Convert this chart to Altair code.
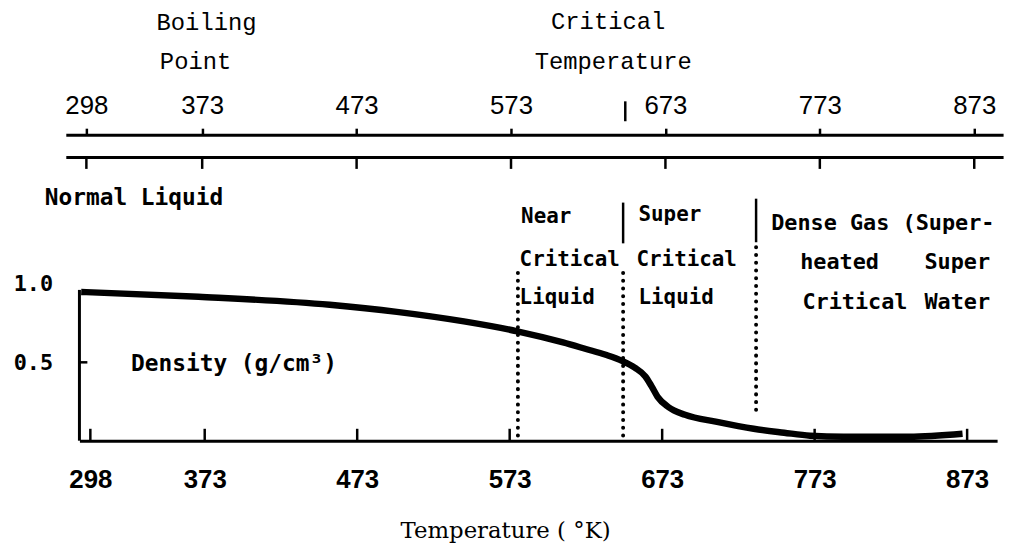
import altair as alt
import pandas as pd

# ---------------- data ----------------
# density curve (temperature in K, density in g/cm3)
temp_k = [292, 369, 455, 499, 543, 578, 608, 623, 636, 647, 655, 662, 666, 670,
          677, 688, 709, 733, 753, 770, 792, 835, 870]
density = [0.949, 0.918, 0.867, 0.822, 0.761, 0.698, 0.627, 0.585, 0.548, 0.508,
           0.466, 0.410, 0.348, 0.280, 0.215, 0.165, 0.120, 0.076, 0.051, 0.032,
           0.025, 0.025, 0.044]

tick_values = [298, 373, 473, 573, 673, 773, 873]
y_tick_values = [0.5, 1.0]

# region boundaries
boundary_temps = [578.4, 647.4, 734.6]
dotted_tops = [1.07, 1.07, 1.234]
dotted_bottoms = [0.0, 0.0, 0.152]
solid_temps = [647.4, 734.6]
solid_tops = [1.519, 1.544]
solid_bottoms = [1.259, 1.266]

critical_temp = [647]
critical_mark = [2.038, 2.165]

top_line_levels = [1.949, 1.807]
top_line_span = [285, 892]
top_tick_depth = [1.807, 1.734]
bottom_tick_height = [0.0, 0.076]
left_axis_span = [0.0, 0.962]

col_labels = ["Near", "Critical", "Liquid", "Super", "Critical", "Liquid"]
col_t = [580.5, 579.5, 579.5, 657.5, 656.2, 657.5]
col_d = [1.424, 1.152, 0.911, 1.437, 1.152, 0.911]

gas_labels = ["Dense Gas (Super-", "heated", "Super", "Critical", "Water"]
gas_t = [744.5, 763.5, 845.0, 765.0, 845.0]
gas_d = [1.386, 1.139, 1.139, 0.886, 0.886]

side_labels = ["Normal Liquid", "Density (g/cm³)"]
side_t = [268.1, 324.7]
side_d = [1.551, 0.487]

head_labels = ["Boiling", "Point", "Critical", "Temperature"]
head_t = [374.2, 367.0, 637.6, 640.9]
head_d = [2.665, 2.418, 2.671, 2.418]

# ---------------- scales & axes ----------------
W, H = 925, 434
x_bottom_scale = alt.Scale(domain=[290.84, 892.66], nice=False, zero=False)
x_top_scale = alt.Scale(domain=[293.5, 887.8], nice=False, zero=False)
y_scale = alt.Scale(domain=[0, 434 / 158], nice=False, zero=False)

bottom_axis = alt.Axis(
    orient="bottom", values=tick_values, grid=False,
    domain=True, domainWidth=3, domainColor="black",
    ticks=False, tickSize=0,
    labelFont="Liberation Sans", labelFontWeight="bold", labelFontSize=26,
    labelColor="black", labelBaseline="middle", labelPadding=39,
    labelFlush=False, labelOverlap=False,
    title="Temperature ( °K)", titleFont="DejaVu Serif", titleFontSize=23,
    titleFontWeight="normal", titleColor="black",
    titleX=429, titleY=91, titleAlign="center", titleBaseline="middle",
)
top_axis = alt.Axis(
    orient="top", values=tick_values, grid=False, domain=False,
    ticks=True, tickSize=7, tickWidth=2.5, tickColor="black",
    labelFont="Liberation Sans", labelFontSize=26, labelColor="black",
    labelBaseline="middle", labelPadding=23, labelFlush=False, labelOverlap=False,
    offset=-126, title=None,
)
y_axis = alt.Axis(
    orient="left", values=y_tick_values, format=".1f", grid=False,
    domain=False, ticks=False, tickSize=0,
    labelFont="DejaVu Sans Mono", labelFontWeight="bold", labelFontSize=22,
    labelColor="black", labelAlign="right", labelBaseline="middle",
    labelPadding=27, title=None,
)


def XB(f):
    return alt.X(f"{f}:Q", scale=x_bottom_scale, axis=bottom_axis)


def XT(f):
    return alt.X(f"{f}:Q", scale=x_top_scale, axis=top_axis)


def YS(f):
    return alt.Y(f"{f}:Q", scale=y_scale, axis=y_axis)


# ---------------- bottom (main) layer ----------------
curve_df = pd.DataFrame({"t": temp_k, "d": density})
curve = alt.Chart(curve_df).mark_line(
    color="black", strokeWidth=6.5, interpolate="monotone", strokeJoin="round"
).encode(x=XB("t"), y=YS("d"))

tick_df = pd.DataFrame({"t": tick_values,
                        "y0": [bottom_tick_height[0]] * len(tick_values),
                        "y1": [bottom_tick_height[1]] * len(tick_values)})
bottom_ticks = alt.Chart(tick_df).mark_rule(color="black", strokeWidth=2.5).encode(
    x=XB("t"), y=YS("y0"), y2="y1")

left_df = pd.DataFrame({"y0": [left_axis_span[0]], "y1": [left_axis_span[1]]})
left_axis = alt.Chart(left_df).mark_rule(color="black", strokeWidth=3).encode(
    x=alt.value(0), y=YS("y0"), y2="y1")

half_df = pd.DataFrame({"d": [y_tick_values[0]]})
half_tick = alt.Chart(half_df).mark_rule(color="black", strokeWidth=2.5).encode(
    x=alt.value(0), x2=alt.value(8), y=YS("d"))

dotted_df = pd.DataFrame({"t": boundary_temps, "top": dotted_tops, "bottom": dotted_bottoms})
dotted = alt.Chart(dotted_df).mark_rule(
    color="black", strokeWidth=4, strokeDash=[0.1, 7.7], strokeCap="round"
).encode(x=XB("t"), y=YS("top"), y2="bottom")

solid_df = pd.DataFrame({"t": solid_temps, "top": solid_tops, "bottom": solid_bottoms})
solid = alt.Chart(solid_df).mark_rule(color="black", strokeWidth=2.5).encode(
    x=XB("t"), y=YS("top"), y2="bottom")


def text_layer(labels, ts, ds, **style):
    df = pd.DataFrame({"label": labels, "t": ts, "d": ds})
    return alt.Chart(df).mark_text(color="black", baseline="middle", **style).encode(
        x=XB("t"), y=YS("d"), text="label:N")


col_text = text_layer(col_labels, col_t, col_d, align="left",
                      font="DejaVu Sans Mono", fontWeight="bold", fontSize=21)
gas_text = text_layer(gas_labels, gas_t, gas_d, align="left",
                      font="DejaVu Sans Mono", fontWeight="bold", fontSize=22)
side_text = text_layer(side_labels, side_t, side_d, align="left",
                       font="DejaVu Sans Mono", fontWeight="bold", fontSize=23)
head_text = text_layer(head_labels, head_t, head_d, align="center",
                       font="Liberation Mono", fontWeight="normal", fontSize=24)

bottom_layer = alt.layer(curve, bottom_ticks, left_axis, half_tick, dotted, solid,
                         col_text, gas_text, side_text, head_text)

# ---------------- top temperature scale ----------------
lines_df = pd.DataFrame({"x0": [top_line_span[0]] * 2, "x1": [top_line_span[1]] * 2,
                         "d": top_line_levels})
top_lines = alt.Chart(lines_df).mark_rule(color="black", strokeWidth=3).encode(
    x=XT("x0"), x2="x1", y=YS("d"))

tick2_df = pd.DataFrame({"t": tick_values,
                         "y0": [top_tick_depth[0]] * len(tick_values),
                         "y1": [top_tick_depth[1]] * len(tick_values)})
top_ticks2 = alt.Chart(tick2_df).mark_rule(color="black", strokeWidth=2.5).encode(
    x=XT("t"), y=YS("y0"), y2="y1")

crit_df = pd.DataFrame({"t": critical_temp, "y0": [critical_mark[0]], "y1": [critical_mark[1]]})
crit_mark = alt.Chart(crit_df).mark_rule(color="black", strokeWidth=2.5).encode(
    x=XT("t"), y=YS("y0"), y2="y1")

top_layer = alt.layer(top_lines, top_ticks2, crit_mark)

chart = alt.layer(bottom_layer, top_layer).resolve_scale(x="independent").properties(
    width=W, height=H,
    padding={"left": 72, "top": 0, "right": 13, "bottom": 105},
    autosize=alt.AutoSizeParams(type="none"),
    background="white",
).configure_view(stroke=None)

chart.save("out.html", embed_options={"renderer": "svg", "actions": False})
